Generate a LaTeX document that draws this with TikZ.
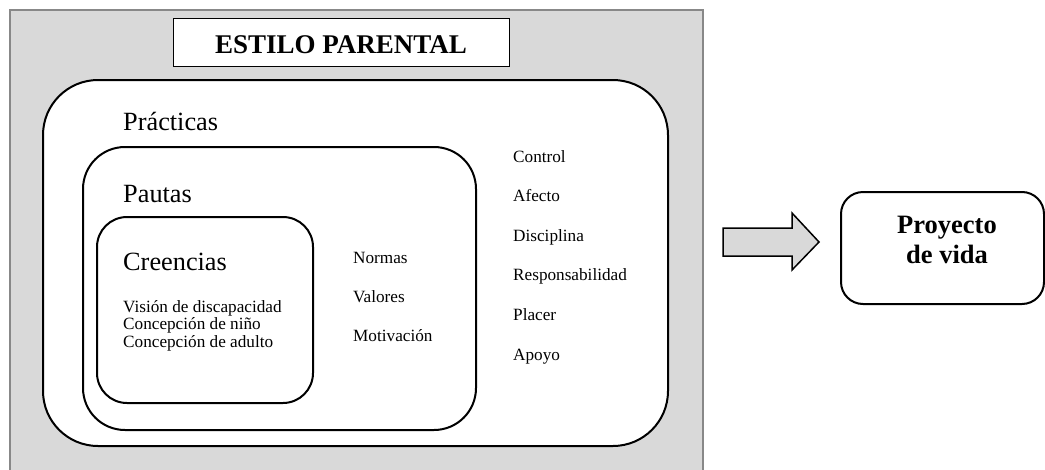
\documentclass[tikz,border=0pt]{standalone}
\usepackage{fontspec}
\setmainfont{Liberation Serif}
\definecolor{bggray}{RGB}{217,217,217}
\definecolor{edgegray}{RGB}{136,136,136}
\begin{document}
\begin{tikzpicture}[x=1pt,y=-1pt,
  frame/.style={draw=black,line width=2pt,fill=white,inner sep=0pt,outer sep=0pt,anchor=north west},
  lbl/.style={inner sep=0pt,anchor=base west},
  big/.style={font=\fontsize{26.3}{30}\selectfont},
  small/.style={font=\fontsize{17.2}{17.5}\selectfont},
  boldbig/.style={font=\fontsize{26.5}{30}\selectfont\bfseries,inner sep=0pt,anchor=base}]
\useasboundingbox (0,0) rectangle (1045,469);
\begin{scope}
\clip (0,0) rectangle (1045,469);
\node[draw=edgegray,line width=2pt,fill=bggray,inner sep=0pt,outer sep=0pt,anchor=north west,
      minimum width=693pt,minimum height=480pt] (bg) at (10,10) {};
% title
\node[draw=black,line width=1pt,fill=white,inner sep=0pt,outer sep=0pt,anchor=north west,
      minimum width=336pt,minimum height=48pt] (titlebox) at (173,18) {};
\node[boldbig,font=\fontsize{27}{30}\selectfont\bfseries] (title) at (341,53) {ESTILO PARENTAL};
% nested rounded boxes
\node[frame,rounded corners=55pt,minimum width=625pt,minimum height=366pt] (practicas) at (43,80) {};
\node[frame,rounded corners=42pt,minimum width=393pt,minimum height=283pt] (pautas) at (83,147) {};
\node[frame,rounded corners=30pt,minimum width=216pt,minimum height=186pt] (creencias) at (97,217) {};
% labels
\node[lbl,big] (tpract) at (123,130) {Prácticas};
\node[lbl,big] (tpaut) at (123,202) {Pautas};
\node[lbl,big] (tcree) at (123,270) {Creencias};
\node[lbl,small] (c1) at (123,312) {Visión de discapacidad};
\node[lbl,small] (c2) at (123,329.5) {Concepción de niño};
\node[lbl,small] (c3) at (123,347) {Concepción de adulto};
\node[lbl,small] (p1) at (353,263) {Normas};
\node[lbl,small] (p2) at (353,302) {Valores};
\node[lbl,small] (p3) at (353,341) {Motivación};
\node[lbl,small] (r1) at (513,162) {Control};
\node[lbl,small] (r2) at (513,201.5) {Afecto};
\node[lbl,small] (r3) at (513,241) {Disciplina};
\node[lbl,small] (r4) at (513,280.5) {Responsabilidad};
\node[lbl,small] (r5) at (513,320) {Placer};
\node[lbl,small] (r6) at (513,360) {Apoyo};
% block arrow
\draw[line width=1.5pt,fill=bggray,line join=miter]
  (723,228) -- (792,228) -- (792,213) -- (819,242) -- (792,270) -- (792,256) -- (723,256) -- cycle;
% proyecto box
\node[frame,rounded corners=22pt,minimum width=203pt,minimum height=112pt] (proyecto) at (841,192) {};
\node[boldbig] (pv1) at (947,233) {Proyecto};
\node[boldbig] (pv2) at (947,263) {de vida};
\end{scope}
\end{tikzpicture}
\end{document}
